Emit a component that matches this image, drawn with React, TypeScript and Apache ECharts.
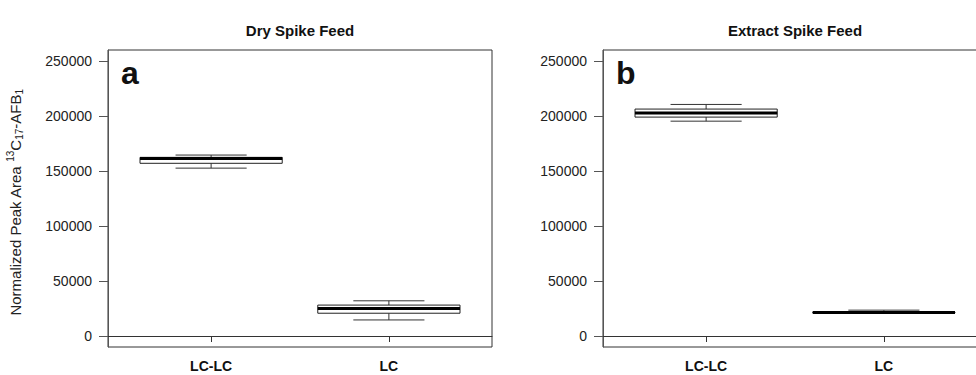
import React, { useEffect, useRef } from "react";
import * as echarts from "echarts";

const categories = ["LC-LC", "LC"];
const panelTitles = ["Dry Spike Feed", "Extract Spike Feed"];
const panelLetters = ["a", "b"];
// [low whisker, Q1, median, Q3, high whisker]
const dryLCLC = [152600, 157000, 161300, 162400, 164500];
const dryLC = [14600, 20700, 25000, 28100, 32000];
const extractLCLC = [195300, 199000, 202700, 206300, 210500];
const extractLC = [20800, 21000, 21300, 21800, 23500];
const yTicks = [0, 50000, 100000, 150000, 200000, 250000];

const panels = [
  [dryLCLC, dryLC],
  [extractLCLC, extractLC],
];

const FONT = "Liberation Sans, Arial, Helvetica, sans-serif";

const gridLefts = [108, 603];
const gridTop = 50;
const gridW = 384;
const gridH = 297;

function renderBox(params: any, api: any) {
  const x = api.value(0);
  const low = api.coord([x, api.value(1)]);
  const q1 = api.coord([x, api.value(2)]);
  const med = api.coord([x, api.value(3)]);
  const q3 = api.coord([x, api.value(4)]);
  const high = api.coord([x, api.value(5)]);
  const cx = low[0];
  const halfW = api.size([0.8, 0])[0] / 2;
  const capHalf = halfW / 2;
  const lineStroke = { stroke: "#333", lineWidth: 1 };
  return {
    type: "group",
    children: [
      { type: "line", shape: { x1: cx, y1: high[1], x2: cx, y2: q3[1] }, style: lineStroke },
      { type: "line", shape: { x1: cx, y1: q1[1], x2: cx, y2: low[1] }, style: lineStroke },
      { type: "line", shape: { x1: cx - capHalf, y1: high[1], x2: cx + capHalf, y2: high[1] }, style: lineStroke },
      { type: "line", shape: { x1: cx - capHalf, y1: low[1], x2: cx + capHalf, y2: low[1] }, style: lineStroke },
      {
        type: "rect",
        shape: { x: cx - halfW, y: q3[1], width: 2 * halfW, height: q1[1] - q3[1] },
        style: { fill: "#fff", stroke: "#222", lineWidth: 1 },
      },
      { type: "line", shape: { x1: cx - halfW, y1: med[1], x2: cx + halfW, y2: med[1] }, style: { stroke: "#000", lineWidth: 3 } },
    ],
  };
}

export default function App() {
  const ref = useRef<HTMLDivElement>(null);
  useEffect(() => {
    document.body.style.margin = "0";
    const chart = echarts.init(ref.current!, null, { renderer: "svg" });
    const grids = gridLefts.map((left) => ({
      left,
      top: gridTop,
      width: gridW,
      height: gridH,
      outerBoundsMode: "none",
      containLabel: false,
      show: true,
      borderColor: "#333",
      borderWidth: 1,
      backgroundColor: "transparent",
    }));
    const xAxes = gridLefts.map((_, i) => ({
      type: "value",
      gridIndex: i,
      min: 0.42,
      max: 2.58,
      splitLine: { show: false },
      axisLine: { show: true, lineStyle: { color: "#333" } },
      axisTick: { show: true, customValues: [1, 2], length: 6, lineStyle: { color: "#333" } },
      axisLabel: {
        customValues: [1, 2],
        formatter: (v: number) => categories[Math.round(v) - 1] ?? "",
        fontWeight: "bold",
        fontSize: 14,
        color: "#111",
        margin: 12,
        fontFamily: FONT,
      },
    }));
    const yAxes = gridLefts.map((_, i) => ({
      type: "value",
      gridIndex: i,
      min: -10000,
      max: 260000,
      splitLine: { show: false },
      axisLine: { show: true, lineStyle: { color: "#555" } },
      axisTick: { show: true, customValues: yTicks, length: 9, lineStyle: { color: "#555" } },
      axisLabel: {
        customValues: yTicks,
        formatter: (v: number) => String(Math.round(v)),
        fontSize: 14,
        color: "#222",
        margin: 16,
        fontFamily: FONT,
      },
    }));
    const series = panels.map((boxes, i) => ({
      type: "custom",
      xAxisIndex: i,
      yAxisIndex: i,
      renderItem: renderBox,
      encode: { x: 0, y: [1, 2, 3, 4, 5] },
      data: boxes.map((b, k) => [k + 1, ...b]),
      clip: false,
    }));
    const graphics: any[] = [];
    gridLefts.forEach((left, i) => {
      graphics.push({
        type: "text",
        x: left + gridW / 2,
        y: 30,
        style: {
          text: panelTitles[i],
          fontFamily: FONT,
          fontWeight: "bold",
          fontSize: 15,
          fill: "#111",
          textAlign: "center",
          textVerticalAlign: "middle",
        },
      });
      graphics.push({
        type: "text",
        x: left + 13,
        y: 73,
        style: {
          text: panelLetters[i],
          fontFamily: FONT,
          fontWeight: "bold",
          fontSize: 32,
          fill: "#111",
          textAlign: "left",
          textVerticalAlign: "middle",
        },
      });
    });
    graphics.push({
      type: "text",
      x: 15,
      y: gridTop + gridH / 2 + 4,
      rotation: Math.PI / 2,
      style: {
        text: "{n|Normalized Peak Area }{sup|13}{n|C}{sub|17}{n|-AFB}{sub|1}",
        fontFamily: FONT,
        textAlign: "center",
        textVerticalAlign: "middle",
        rich: {
          n: { fontSize: 15, fontFamily: FONT, fill: "#222", lineHeight: 19, verticalAlign: "middle" },
          sup: { fontSize: 10, fontFamily: FONT, fill: "#222", lineHeight: 19, verticalAlign: "top" },
          sub: { fontSize: 10, fontFamily: FONT, fill: "#222", lineHeight: 19, verticalAlign: "bottom" },
        },
      },
    });
    chart.setOption({
      animation: false,
      backgroundColor: "#fff",
      grid: grids,
      xAxis: xAxes,
      yAxis: yAxes,
      series,
      graphic: graphics,
    });
    return () => chart.dispose();
  }, []);
  return <div ref={ref} style={{ width: 976, height: 375 }} />;
}
